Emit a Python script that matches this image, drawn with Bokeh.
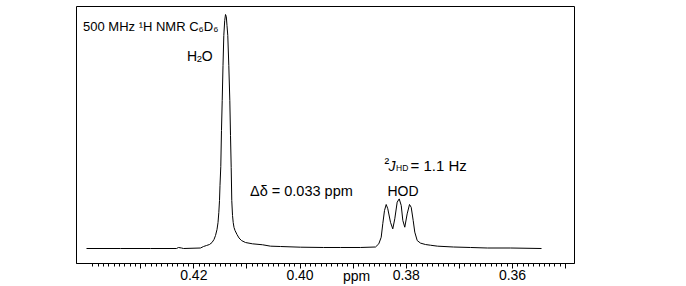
from bokeh.plotting import figure
from bokeh.models import Range1d, FixedTicker, Label
from bokeh.embed import file_html
from bokeh.resources import INLINE

# ---- data: chemical shift (ppm) and intensity (H2O peak = 100) ----
ppm = [0.44020, 0.43380, 0.42815, 0.42326, 0.42288, 0.42232, 0.42194, 0.41874,
       0.41817, 0.41761, 0.41704, 0.41657, 0.41620, 0.41591, 0.41563, 0.41544,
       0.41529, 0.41516, 0.41507, 0.41492, 0.41479, 0.41465, 0.41450, 0.41435,
       0.41418, 0.41403, 0.41388, 0.41375, 0.41360, 0.41341, 0.41322, 0.41309,
       0.41296, 0.41285, 0.41271, 0.41258, 0.41243, 0.41224, 0.41187, 0.41149,
       0.41102, 0.41027, 0.40895, 0.40707, 0.40556, 0.40368, 0.39991, 0.39558,
       0.39238, 0.38862, 0.38579, 0.38517, 0.38472, 0.38442, 0.38410, 0.38378,
       0.38348, 0.38297, 0.38254, 0.38216, 0.38171, 0.38133, 0.38095, 0.38065,
       0.38028, 0.37983, 0.37939, 0.37907, 0.37870, 0.37840, 0.37794, 0.37732,
       0.37638, 0.37544, 0.37412, 0.37111, 0.36791, 0.36471, 0.36038, 0.35454]
intensity = [0.0, 0.0, 0.0, 0.0, 0.43, 0.21, 0.0, 0.21,
             0.85, 1.28, 1.71, 2.56, 3.85, 5.56, 8.12, 11.1,
             15.4, 20.5, 26.9, 35.0, 50.4, 63.2, 78.2, 91.0,
             97.4, 100.0, 99.1, 95.3, 91.0, 78.2, 63.2, 48.3,
             34.6, 20.5, 14.1, 11.1, 9.0, 7.7, 6.0, 4.5,
             3.4, 2.56, 2.0, 1.6, 1.0, 0.85, 0.56, 0.43,
             0.43, 0.43, 0.64, 2.0, 4.8, 10.6, 16.2, 18.8,
             17.0, 11.2, 8.4, 12.7, 19.8, 21.2, 18.4, 12.0,
             9.1, 14.8, 18.8, 17.6, 12.0, 7.0, 3.4, 2.3,
             1.7, 1.4, 1.0, 0.64, 0.43, 0.21, 0.21, 0.0]

major_ticks = [0.35, 0.36, 0.37, 0.38, 0.39, 0.40, 0.41, 0.42, 0.43]
tick_labels = {0.36: "0.36", 0.38: "0.38", 0.40: "0.40", 0.42: "0.42",
               0.35: "", 0.37: "", 0.39: "", 0.41: "", 0.43: ""}
minor_ticks = [round(0.350 + 0.001 * i, 3) for i in range(90)]
x_title = "ppm"

FONT = "Liberation Sans"

# frame geometry helpers (pixel -> data) for annotation placement
def X(px):
    return 0.42 - (px - 193.3) / 5311.7

def Y(py):
    return (248.0 - py) / 2.34

p = figure(width=686, height=286, output_backend="svg", toolbar_location=None,
           x_range=Range1d(X(76), X(574)), y_range=Range1d(Y(263), Y(6)),
           min_border_left=76, min_border_right=112, min_border_top=6,
           min_border_bottom=23)
p.background_fill_color = "white"
p.border_fill_color = "white"
p.outline_line_color = "black"
p.outline_line_width = 1
p.xgrid.visible = False
p.ygrid.visible = False
p.yaxis.visible = False

ax = p.xaxis[0]
ax.ticker = FixedTicker(ticks=major_ticks, minor_ticks=minor_ticks)
ax.major_label_overrides = tick_labels
ax.axis_line_color = "black"
ax.major_tick_line_color = "black"
ax.minor_tick_line_color = "black"
ax.major_tick_in = 0
ax.major_tick_out = 5
ax.minor_tick_in = 0
ax.minor_tick_out = 3
ax.major_label_standoff = 1
ax.major_label_text_font = FONT
ax.major_label_text_font_size = "14px"
ax.major_label_text_color = "black"
# axis title, shifted right of centre with non-breaking spaces
ax.axis_label = "\u00a0" * 16 + x_title
ax.axis_label_text_font = FONT
ax.axis_label_text_font_size = "14px"
ax.axis_label_text_font_style = "normal"
ax.axis_label_text_color = "black"
ax.axis_label_standoff = -15

p.line(ppm, intensity, line_color="black", line_width=1)

def lab(txt, px, py, size, style="normal"):
    p.add_layout(Label(x=X(px), y=Y(py), text=txt, text_font=FONT,
                       text_font_size=f"{size}px", text_font_style=style,
                       text_color="black", text_baseline="alphabetic",
                       text_align="left"))

# top-left title
lab("500 MHz \u00b9H NMR C\u2086D\u2086", 82.5, 26, 13)

# H2O
lab("H", 186.5, 55, 14)
lab("2", 196.3, 58.5, 9.5)
lab("O", 201.3, 55, 14)

# delta delta
lab("\u0394\u03b4 = 0.033 ppm", 249.5, 190, 14.5)

# 2J_HD
lab("\u00b2", 384, 162, 14)
lab("J", 388, 165, 14, "italic")
lab("HD", 395.5, 167.5, 8.5)
lab("= 1.1 Hz", 410, 165, 15)

# HOD
lab("HOD", 387, 190, 14)

open("out.html", "w").write(file_html(p, INLINE))
